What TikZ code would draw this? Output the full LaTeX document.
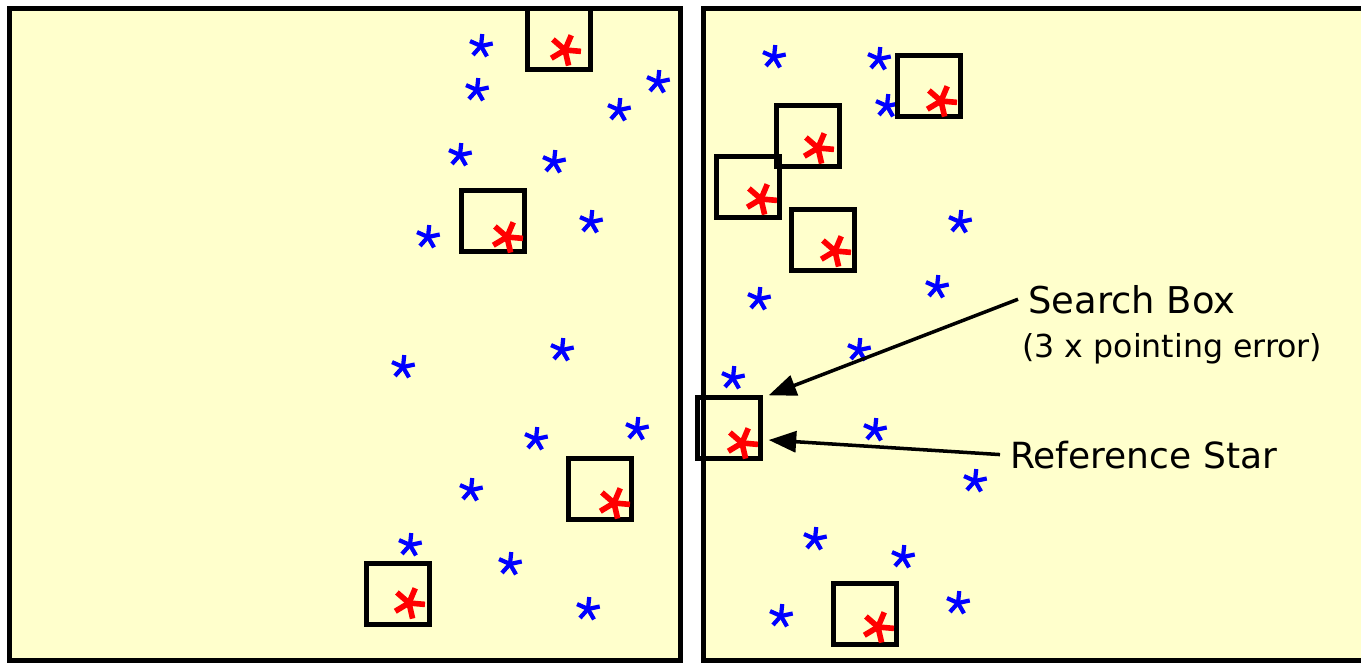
\documentclass[tikz,border=0pt]{standalone}
\usepackage{fontspec}
\setmainfont{DejaVu Sans}
\usetikzlibrary{arrows.meta}
\definecolor{skypaper}{RGB}{255,255,204}

\begin{document}
\begin{tikzpicture}[x=0.02cm,y=-0.02cm,
    panel/.style={draw=black,line width=2.85pt,fill=skypaper},
    searchbox/.style={draw=black,line width=2.5pt,minimum width=1.26cm,minimum height=1.22cm,inner sep=0pt},
    fieldstar/.style={blue,line width=2.4pt},
    guidestar/.style={red,line width=3.2pt},
    callout/.style={inner xsep=0.2cm,inner ysep=0pt,anchor=base west,font=\fontsize{20.5}{24}\selectfont},
    pointer/.style={line width=2pt,-{Triangle[length=0.55cm,width=0.42cm]}}]
  \useasboundingbox (0,0) rectangle (1361,662);
  \draw[panel] (9.5,8.5) rectangle (680,660.5);
  \draw[panel] (703.5,8.5) rectangle (1385,660.5);

  % field stars, both fields
  \foreach \x/\y in {481/46,477/90,658/82,619/110,460/155,554/162,591/222,428/237,
      403/367,562/350,536/439,637/429,471/490,410/545,510/564,588/609,
      774/57,879/59,887/106,960/222,759/299,937/287,859/350,733/378,
      875/430,975/481,815/539,903/557,958/603,781/616}
    \foreach \a in {0,72,...,288}
      \draw[fieldstar] (\x,\y) -- +(\a+84:0.24cm);

  % search boxes
  \foreach \n/\x/\y in {1/559/39,2/493/221,3/600/489,4/398/594,5/929/86,
      6/808/136,7/748/187,8/823/240,9/729/428,10/865/614}
    \node[searchbox] (box\n) at (\x,\y) {};

  % reference stars
  \foreach \x/\y in {565/50,507/237,614/503,409/603,941/101,818/148,
      761/199,835/251,742/443,878/627}
    \foreach \a in {0,72,...,288}
      \draw[guidestar] (\x,\y) -- +(\a-5:0.32cm);

  \node[callout,font=\fontsize{21}{24}\selectfont] (searchlbl) at (1018,313) {Search Box};
  \node[callout,font=\fontsize{18}{20}\selectfont] (errlbl) at (1012,357) {(3 x pointing error)};
  \node[callout] (reflbl) at (1000,468) {Reference Star};

  \draw[pointer] (searchlbl.west) -- ([xshift=0.12cm]box9.north east);
  \draw[pointer] (reflbl.west) -- ([shift={(6,12)}]box9.east);
\end{tikzpicture}
\end{document}
